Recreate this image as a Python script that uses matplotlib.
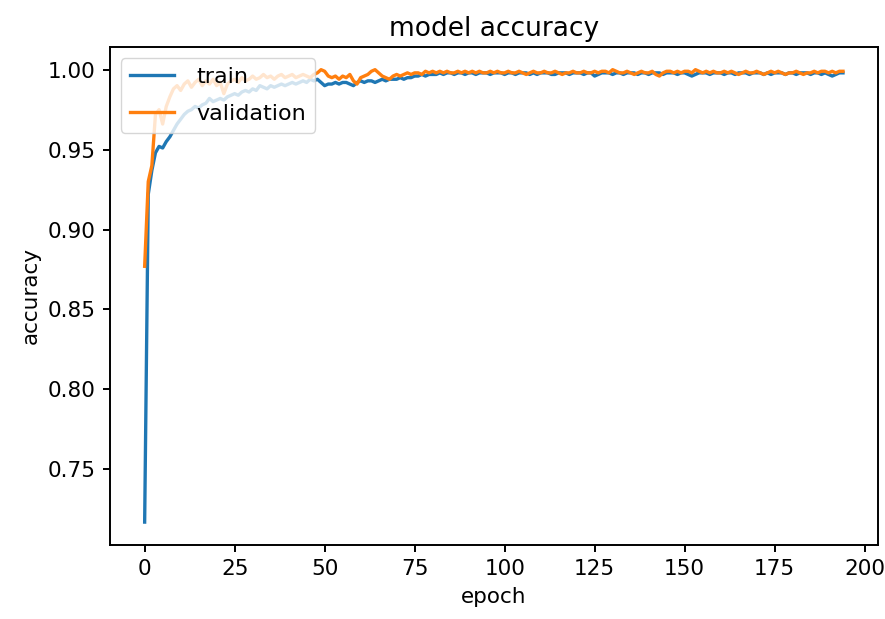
import matplotlib
matplotlib.use("Agg")
import matplotlib.pyplot as plt

train_early = [
    0.717, 0.922, 0.937, 0.948, 0.952, 0.951, 0.955, 0.958, 0.962, 0.966,
    0.969, 0.972, 0.974, 0.975, 0.977, 0.976, 0.978, 0.979, 0.982, 0.980,
    0.981, 0.982, 0.981, 0.983, 0.984, 0.985, 0.984, 0.986, 0.987, 0.986,
    0.988, 0.987, 0.990, 0.989, 0.988, 0.990, 0.989, 0.990, 0.991, 0.990,
    0.991, 0.992, 0.991, 0.992, 0.993, 0.992, 0.994, 0.993, 0.994, 0.992,
    0.990, 0.991, 0.991, 0.992, 0.991, 0.992, 0.992, 0.991, 0.990, 0.992,
    0.993, 0.992, 0.993, 0.993, 0.992, 0.993, 0.994, 0.993, 0.994, 0.994,
    0.994, 0.995, 0.994, 0.995, 0.995, 0.996, 0.996, 0.997, 0.996, 0.997,
    0.997,
]
train_late = [
    0.997, 0.998, 0.997, 0.998, 0.998, 0.997, 0.998, 0.998, 0.997, 0.998,
    0.998, 0.997, 0.998, 0.998, 0.998, 0.997, 0.998, 0.998, 0.998, 0.997,
    0.998, 0.998, 0.997, 0.998, 0.998, 0.998, 0.997, 0.998, 0.997, 0.998,
    0.998, 0.998, 0.997, 0.997, 0.998, 0.998, 0.998, 0.997, 0.998, 0.998,
    0.998, 0.997, 0.998, 0.998, 0.996, 0.997, 0.998, 0.998, 0.998, 0.997,
    0.998, 0.998, 0.997, 0.998, 0.998, 0.998, 0.997, 0.998, 0.998, 0.997,
    0.998, 0.998, 0.998, 0.997, 0.998, 0.998, 0.998, 0.997, 0.998, 0.998,
    0.997, 0.996, 0.997, 0.998, 0.998, 0.998, 0.997, 0.998, 0.998, 0.998,
    0.997, 0.998, 0.998, 0.997, 0.998, 0.998, 0.998, 0.997, 0.998, 0.998,
    0.998, 0.997, 0.998, 0.997, 0.998, 0.998, 0.998, 0.997, 0.998, 0.998,
    0.997, 0.998, 0.998, 0.998, 0.997, 0.998, 0.998, 0.997, 0.998, 0.997,
    0.996, 0.997, 0.998, 0.998,
]
val_early = [
    0.877, 0.930, 0.940, 0.972, 0.975, 0.966, 0.977, 0.983, 0.988, 0.990,
    0.987, 0.991, 0.993, 0.989, 0.992, 0.994, 0.990, 0.993, 0.991, 0.994,
    0.990, 0.992, 0.985, 0.991, 0.993, 0.994, 0.992, 0.995, 0.993, 0.994,
    0.996, 0.994, 0.995, 0.997, 0.995, 0.996, 0.994, 0.996, 0.997, 0.995,
    0.996, 0.997, 0.995, 0.996, 0.997, 0.996, 0.995, 0.997, 0.998, 1.000,
    0.999, 0.996, 0.995, 0.996, 0.994, 0.996, 0.995, 0.997, 0.993, 0.991,
    0.995, 0.996, 0.997, 0.999, 1.000, 0.998, 0.996, 0.995, 0.994, 0.996,
    0.997, 0.996, 0.997, 0.998, 0.997, 0.998, 0.998, 0.997, 0.999, 0.998,
    0.999,
]
val_late = [
    0.998, 0.999, 0.998, 0.999, 0.998, 0.998, 0.999, 0.998, 0.999, 0.998,
    0.999, 0.998, 0.999, 0.998, 0.998, 0.999, 0.998, 0.999, 0.998, 0.998,
    0.999, 0.998, 0.998, 0.999, 0.998, 0.997, 0.998, 0.999, 0.998, 0.998,
    0.999, 0.998, 0.998, 0.999, 0.998, 0.997, 0.998, 0.998, 0.999, 0.998,
    0.998, 0.999, 0.998, 0.998, 0.999, 0.998, 0.999, 0.999, 0.998, 1.000,
    0.999, 0.998, 0.998, 0.999, 0.998, 0.997, 0.998, 0.999, 0.998, 0.998,
    0.999, 0.997, 0.996, 0.998, 0.999, 0.999, 0.998, 0.999, 0.998, 0.999,
    0.999, 0.998, 1.000, 0.999, 0.998, 0.999, 0.998, 0.999, 0.998, 0.998,
    0.999, 0.998, 0.999, 0.998, 0.997, 0.998, 0.999, 0.998, 0.998, 0.999,
    0.998, 0.997, 0.998, 0.999, 0.998, 0.999, 0.998, 0.997, 0.998, 0.998,
    0.999, 0.998, 0.997, 0.998, 0.998, 0.999, 0.998, 0.999, 0.999, 0.998,
    0.999, 0.998, 0.999, 0.999,
]

train_acc = train_early + train_late
val_acc = val_early + val_late
series_labels = ["train", "validation"]

plt.rcParams.update({
    "font.family": "DejaVu Sans",
    "font.size": 15.5,
    "axes.linewidth": 1.4,
    "xtick.major.width": 1.4,
    "ytick.major.width": 1.4,
    "xtick.major.size": 5.2,
    "ytick.major.size": 5.2,
    "xtick.major.pad": 5,
    "ytick.major.pad": 5,
    "lines.linewidth": 2.4,
})

fig = plt.figure(figsize=(8.85, 6.19), dpi=100)
ax = fig.add_axes([0.124, 0.120, 0.868, 0.804])
ax.plot(train_acc, label=series_labels[0])
ax.plot(val_acc, label=series_labels[1])
ax.set_title("model accuracy", fontsize=19, pad=8)
ax.set_ylabel("accuracy", labelpad=5)
ax.set_xlabel("epoch", labelpad=6)
ax.legend(loc="upper left", fontsize=16, labelspacing=0.75,
          handletextpad=1.0, borderaxespad=0.5)
fig.savefig("out.png", dpi=100)
